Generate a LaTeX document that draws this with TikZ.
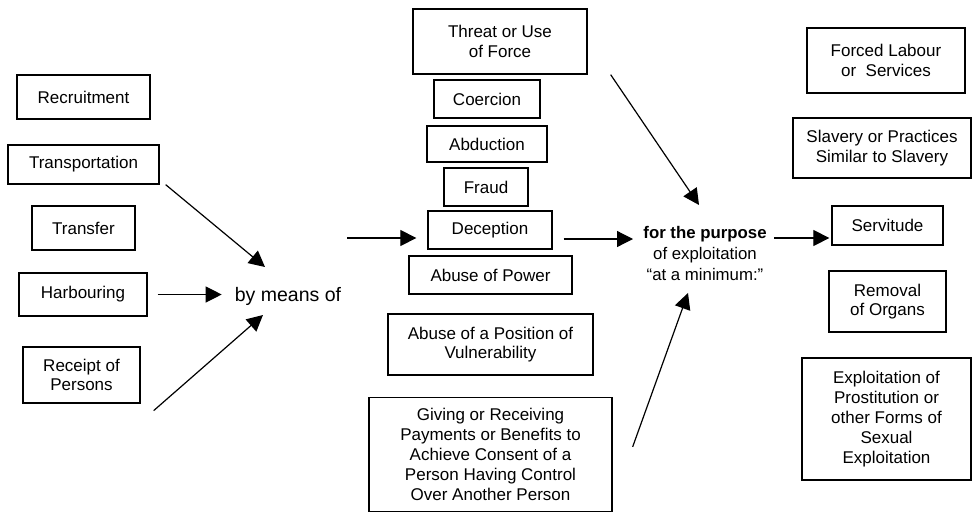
\documentclass[tikz,border=0pt]{standalone}
\usepackage{fontspec}
\setmainfont{Liberation Sans}
\usetikzlibrary{arrows.meta,calc}
\begin{document}
\begin{tikzpicture}[x=1pt,y=-1pt,
  box/.style={draw,line width=1.3pt,align=center,inner sep=0pt,font=\fontsize{17}{19.8}\selectfont},
  arr/.style={line width=1.2pt,-{Triangle[length=16pt,width=16pt]}}]
\useasboundingbox (0,0) rectangle (973,514);
% left column
\node[box,minimum width=133pt,minimum height=44pt] (rec) at (83.5,97) {Recruitment};
\node[box,minimum width=151pt,minimum height=39pt] (trans) at (83.5,164.5) {Transportation};
\node[box,minimum width=103pt,minimum height=44pt] (transf) at (83.5,228) {Transfer};
\node[box,minimum width=128pt,minimum height=43pt] (harb) at (83,294.5) {Harbouring};
\node[box,minimum width=117pt,minimum height=56pt] (rcpt) at (81.5,375) {Receipt of\\Persons};
\node[inner sep=0pt,font=\fontsize{19.5}{22}\selectfont] (bym) at (288,296) {by means of};
% middle column
\node[box,minimum width=174pt,minimum height=65pt] (threat) at (500,41.5) {Threat or Use\\of Force};
\node[box,minimum width=106pt,minimum height=38pt] (coer) at (487,99) {Coercion};
\node[box,minimum width=120pt,minimum height=36pt] (abd) at (487,144) {Abduction};
\node[box,minimum width=84pt,minimum height=38pt] (fraud) at (486,187) {Fraud};
\node[box,minimum width=124pt,minimum height=38pt] (dec) at (490,230) {Deception};
\node[box,minimum width=163pt,minimum height=38pt] (abp) at (490.5,275) {Abuse of Power};
\node[box,minimum width=205pt,minimum height=61pt] (apv) at (490.5,344.5) {Abuse of a Position of\\Vulnerability};
\node[box,minimum width=243pt,minimum height=114pt] (giv) at (490.5,454.5) {Giving or Receiving\\Payments or Benefits to\\Achieve Consent of a\\Person Having Control\\Over Another Person};
% purpose
\node[inner sep=0pt,align=center,font=\fontsize{16.8}{21}\selectfont] (purp) at (705,253) {\textbf{for the purpose}\\of exploitation\\“at a minimum:”};
% right column
\node[box,minimum width=158pt,minimum height=65pt] (forced) at (886,60.5) {Forced Labour\\or\ \ Services};
\node[box,minimum width=178pt,minimum height=60pt] (slav) at (882,148) {Slavery or Practices\\Similar to Slavery};
\node[box,minimum width=111pt,minimum height=39pt] (serv) at (887.5,225.5) {Servitude};
\node[box,minimum width=117pt,minimum height=61pt] (rem) at (887.5,301.5) {Removal\\of Organs};
\node[box,minimum width=169pt,minimum height=122pt] (expl) at (886.5,419) {Exploitation of\\Prostitution or\\other Forms of\\Sexual\\Exploitation};
% arrows
\draw[arr] ([shift={(6,0)}]trans.south east) -- ([shift={(-23,-29)}]bym.center);
\draw[arr] ([xshift=10pt]harb.east) -- ([xshift=-13pt]harb.east -| bym.west);
\draw[arr] ([shift={(13,7)}]rcpt.south east) -- ([shift={(-25,19)}]bym.center);
\draw[arr] ([shift={(-80,8)}]dec.west) -- ([shift={(-11,8)}]dec.west);
\draw[arr] ([shift={(11,9)}]dec.east) -- ([shift={(-72,-14)}]purp.center);
\draw[arr] ([shift={(23,0)}]threat.south east) -- ([shift={(-6,-48)}]purp.center);
\draw[arr] ([shift={(20,50)}]giv.north east) -- ([shift={(-17,40)}]purp.center);
\draw[arr] ([shift={(69,-15)}]purp.center) -- ([shift={(-2,12.5)}]serv.west);
\end{tikzpicture}
\end{document}
